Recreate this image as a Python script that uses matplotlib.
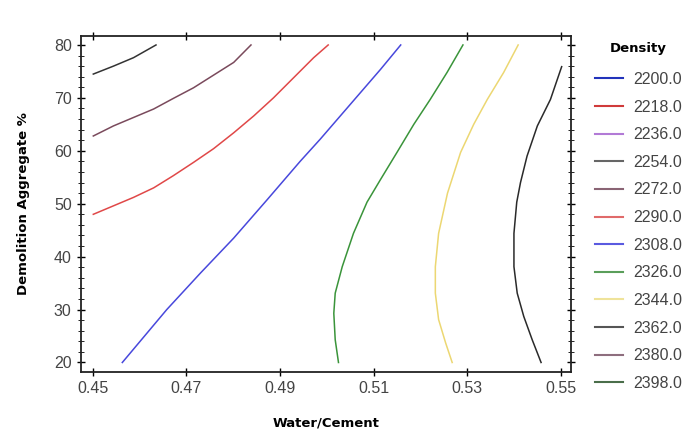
import matplotlib
matplotlib.use('Agg')
import matplotlib.pyplot as plt
from matplotlib.lines import Line2D
from matplotlib.ticker import MultipleLocator

# contour levels and legend colours
levels = [2200.0, 2218.0, 2236.0, 2254.0, 2272.0, 2290.0,
          2308.0, 2326.0, 2344.0, 2362.0, 2380.0, 2398.0]
level_colors = ['#2233bb', '#d03a3a', '#b27ad6', '#666666', '#8a6474', '#e06a6a',
                '#5a5ae0', '#5a9e5a', '#efe39a', '#555555', '#8e6e7e', '#4a6e4a']

# contour lines (water/cement, demolition aggregate %)
c2254_x = [0.4501, 0.4544, 0.4587, 0.4635]
c2254_y = [74.5, 76.0, 77.6, 80.0]
c2272_x = [0.4501, 0.4544, 0.4587, 0.4630, 0.4672, 0.4715, 0.4758, 0.4801, 0.4838]
c2272_y = [62.8, 64.7, 66.3, 67.9, 69.9, 71.9, 74.3, 76.7, 80.0]
c2290_x = [0.4501, 0.4544, 0.4587, 0.4630, 0.4672, 0.4715, 0.4758, 0.4801,
           0.4844, 0.4886, 0.4929, 0.4972, 0.5003]
c2290_y = [48.0, 49.6, 51.2, 53.0, 55.3, 57.8, 60.4, 63.4,
           66.6, 70.0, 73.8, 77.6, 80.0]
c2308_x = [0.4563, 0.4658, 0.4730, 0.4801, 0.4872, 0.4943, 0.4986, 0.5029,
           0.5072, 0.5115, 0.5158]
c2308_y = [20.0, 30.0, 36.9, 43.5, 50.7, 58.0, 62.2, 66.6, 71.0, 75.4, 80.0]
c2326_x = [0.5025, 0.5018, 0.5015, 0.5018, 0.5033, 0.5057, 0.5086, 0.5115,
           0.5150, 0.5186, 0.5221, 0.5257, 0.5291]
c2326_y = [20.0, 24.3, 29.3, 33.1, 38.1, 44.4, 50.3, 54.6, 59.7, 65.0, 69.7, 74.8, 80.0]
c2344_x = [0.5268, 0.5254, 0.5239, 0.5232, 0.5232, 0.5239, 0.5258, 0.5286,
           0.5314, 0.5343, 0.5378, 0.5409]
c2344_y = [20.0, 23.7, 28.1, 33.1, 38.1, 44.4, 52.0, 59.7, 65.0, 69.7, 74.8, 80.0]
c2362_x = [0.5458, 0.5439, 0.5421, 0.5407, 0.5400, 0.5400, 0.5406, 0.5414,
           0.5428, 0.5450, 0.5478, 0.5502]
c2362_y = [20.0, 24.3, 28.7, 33.1, 38.1, 44.4, 50.3, 54.0, 59.0, 64.7, 69.7, 75.9]

curves = [(c2254_x, c2254_y, '#333333'),
          (c2272_x, c2272_y, '#7a4a5c'),
          (c2290_x, c2290_y, '#e04848'),
          (c2308_x, c2308_y, '#4848dc'),
          (c2326_x, c2326_y, '#3a943a'),
          (c2344_x, c2344_y, '#ecd772'),
          (c2362_x, c2362_y, '#2a2a2a')]

x_ticks = [0.45, 0.47, 0.49, 0.51, 0.53, 0.55]
y_ticks = [20, 30, 40, 50, 60, 70, 80]

narrow = ['Liberation Sans Narrow', 'Liberation Sans', 'DejaVu Sans']

fig = plt.figure(figsize=(6.86, 4.37), dpi=100)
ax = fig.add_axes([0.1176, 0.1487, 0.7148, 0.769])

for xs, ys, col in curves:
    ax.plot(xs, ys, color=col, lw=1.1)

ax.set_xlim(0.4474, 0.5522)
ax.set_ylim(18.2, 81.7)
ax.set_xticks(x_ticks)
ax.set_xticklabels(['{:.2f}'.format(t) for t in x_ticks])
ax.set_yticks(y_ticks)
ax.yaxis.set_minor_locator(MultipleLocator(2))
ax.tick_params(axis='both', which='major', direction='inout', length=6,
               top=True, right=True, labelsize=11.5, labelcolor='#444444', width=1)
ax.tick_params(axis='y', which='minor', direction='inout', length=4, right=True)
for lab in ax.get_xticklabels() + ax.get_yticklabels():
    lab.set_family(narrow)
for sp in ax.spines.values():
    sp.set_linewidth(1.3)
    sp.set_color('#222222')

ax.set_xlabel('Water/Cement', fontsize=9.5, fontweight='bold', labelpad=15)
ax.set_ylabel('Demolition Aggregate %', fontsize=9.5, fontweight='bold', labelpad=17)

handles = [Line2D([], [], color=c, lw=1.5) for c in level_colors]
leg = ax.legend(handles, ['{:.1f}'.format(v) for v in levels], title='Density',
                loc='upper left', bbox_to_anchor=(1.035, 1.0), frameon=False,
                handlelength=1.75, handletextpad=0.7, labelspacing=0.79,
                borderaxespad=0, prop={'family': narrow, 'size': 11.5})
leg.get_title().set_fontweight('bold')
leg.get_title().set_fontsize(9.5)
leg._legend_box.sep = 12
for t in leg.get_texts():
    t.set_color('#444444')

fig.savefig('out.png', dpi=100)
